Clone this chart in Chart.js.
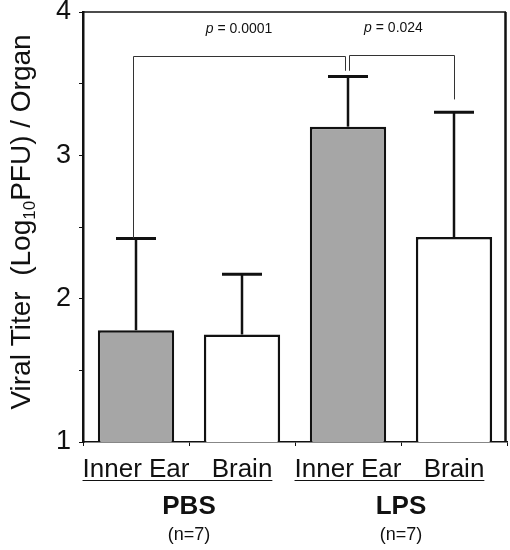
<!DOCTYPE html>
<html>
<head>
<meta charset="utf-8">
<script src="https://cdn.jsdelivr.net/npm/chart.js@4"></script>
<style>
  body { margin: 0; background: #fff; }
  #wrap { width: 510px; height: 550px; }
</style>
</head>
<body>
<div id="wrap"><canvas id="myChart" width="510" height="550"></canvas></div>
<script>
// organ per bar, group per pair of bars
var organs = ['Inner Ear', 'Brain', 'Inner Ear', 'Brain']
var groups = ['PBS', 'LPS']
var group_n = ['(n=7)', '(n=7)']

// mean titer (log10 PFU) and top of error bar
var means = [1.78, 1.75, 3.20, 2.43]
var upper = [2.42, 2.17, 3.55, 3.30]

var y_ticks = [1, 2, 3, 4]

// significance brackets: from bar, to bar, height, p value
var bracket_from = [0, 2]
var bracket_to = [2, 3]
var bracket_y = [3.69, 3.70]
var bracket_drop = [3.59, 3.39]   // where the right leg stops
var p_values = ['0.0001', '0.024']

var fontFam = '"Liberation Sans", Arial, Helvetica, sans-serif'

var extras = {
    id: 'extras',
    afterDatasetsDraw(chart) {
        var ctx = chart.ctx
        var x = chart.scales.x
        var y = chart.scales.y
        var meta = chart.getDatasetMeta(0)
        ctx.save()

        // error bars
        ctx.strokeStyle = '#111'
        for (var i = 0; i < means.length; i++) {
            var bx = meta.data[i].x
            var y0 = y.getPixelForValue(means[i])
            var y1 = y.getPixelForValue(upper[i])
            ctx.lineWidth = 2.5
            ctx.beginPath()
            ctx.moveTo(bx, y0)
            ctx.lineTo(bx, y1)
            ctx.stroke()
            ctx.lineWidth = 3
            ctx.beginPath()
            ctx.moveTo(bx - 20, y1)
            ctx.lineTo(bx + 20, y1)
            ctx.stroke()
        }

        // brackets
        ctx.strokeStyle = '#333'
        ctx.lineWidth = 1
        for (var b = 0; b < bracket_from.length; b++) {
            var xa = meta.data[bracket_from[b]].x
            var xb = meta.data[bracket_to[b]].x
            var ya, yb
            if (b == 0) {
                xa = xa - 3
                xb = xb - 3
                ya = y.getPixelForValue(upper[bracket_from[b]])
            } else {
                xa = xa + 1
                ya = y.getPixelForValue(bracket_drop[0])
            }
            var yh = y.getPixelForValue(bracket_y[b])
            yb = y.getPixelForValue(bracket_drop[b])
            ctx.beginPath()
            ctx.moveTo(Math.round(xa) + 0.5, ya)
            ctx.lineTo(Math.round(xa) + 0.5, Math.round(yh) + 0.5)
            ctx.lineTo(Math.round(xb) + 0.5, Math.round(yh) + 0.5)
            ctx.lineTo(Math.round(xb) + 0.5, yb)
            ctx.stroke()

            // p label
            var mid = (xa + xb) / 2
            var ty = yh - 27
            ctx.fillStyle = '#111'
            ctx.textBaseline = 'middle'
            ctx.textAlign = 'left'
            ctx.font = 'italic 14px ' + fontFam
            var w1 = ctx.measureText('p').width
            ctx.font = '14px ' + fontFam
            var rest = ' = ' + p_values[b]
            var w2 = ctx.measureText(rest).width
            var sx = mid - (w1 + w2) / 2 - (b == 1 ? 8 : 0)
            ctx.font = 'italic 14px ' + fontFam
            ctx.fillText('p', sx, ty)
            ctx.font = '14px ' + fontFam
            ctx.fillText(rest, sx + w1, ty)
        }

        // top and right frame
        var a = chart.chartArea
        ctx.strokeStyle = '#111'
        ctx.lineWidth = 1.5
        ctx.beginPath()
        ctx.moveTo(a.left, a.top)
        ctx.lineTo(a.right - 1, a.top)
        ctx.stroke()
        ctx.lineWidth = 2.5
        ctx.beginPath()
        ctx.moveTo(a.right - 1.5, a.top)
        ctx.lineTo(a.right - 1.5, a.bottom)
        ctx.stroke()

        // category labels, underlines, group labels
        ctx.fillStyle = '#111'
        ctx.textAlign = 'center'
        ctx.textBaseline = 'alphabetic'
        ctx.font = '26px ' + fontFam
        for (var i = 0; i < organs.length; i++) {
            ctx.fillText(organs[i], meta.data[i].x, a.bottom + 35)
        }
        for (var g = 0; g < groups.length; g++) {
            var left = meta.data[g * 2].x
            var right = meta.data[g * 2 + 1].x
            ctx.font = '26px ' + fontFam
            var lw = ctx.measureText(organs[g * 2]).width
            var rw = ctx.measureText(organs[g * 2 + 1]).width
            ctx.lineWidth = 1.2
            ctx.beginPath()
            ctx.moveTo(left - lw / 2, a.bottom + 38.5)
            ctx.lineTo(right + rw / 2, a.bottom + 38.5)
            ctx.stroke()
            var gc = (left + right) / 2
            ctx.font = 'bold 26px ' + fontFam
            ctx.fillText(groups[g], gc, a.bottom + 72)
            ctx.font = '18px ' + fontFam
            ctx.fillText(group_n[g], gc, a.bottom + 98)
        }

        // y axis title with subscript
        ctx.translate(22, (a.top + a.bottom) / 2 - 5)
        ctx.rotate(-Math.PI / 2)
        ctx.textAlign = 'left'
        ctx.textBaseline = 'middle'
        var p1 = 'Viral Titer  (Log'
        var sub = '10'
        var p2 = 'PFU) / Organ'
        ctx.font = '28px ' + fontFam
        var wa = ctx.measureText(p1).width
        var wc = ctx.measureText(p2).width
        ctx.font = '17px ' + fontFam
        var wb = ctx.measureText(sub).width
        var st = -(wa + wb + wc) / 2
        ctx.font = '28px ' + fontFam
        ctx.fillText(p1, st, 0)
        ctx.font = '17px ' + fontFam
        ctx.fillText(sub, st + wa, 8)
        ctx.font = '28px ' + fontFam
        ctx.fillText(p2, st + wa + wb, 0)

        ctx.restore()
    }
}

let myChart = document.getElementById('myChart').getContext('2d')
let titerChart = new Chart(myChart, {
    type: 'bar',
    data: {
        labels: organs,
        datasets: [{
            data: means,
            backgroundColor: ['#a6a6a6', '#ffffff', '#a6a6a6', '#ffffff'],
            borderColor: '#111',
            borderWidth: 2.5,
            barPercentage: 0.72,
            categoryPercentage: 1,
        }]
    },
    options: {
        responsive: false,
        animation: false,
        layout: { padding: { top: 12, right: 3, left: 0, bottom: 0 } },
        plugins: { legend: { display: false }, tooltip: { enabled: false } },
        scales: {
            x: {
                grid: { drawOnChartArea: false, tickLength: 4, color: '#111', lineWidth: 1 },
                border: { color: '#111', width: 1.5 },
                ticks: { display: false },
                afterFit: function (scale) {
                    scale.height = 108
                    scale.paddingLeft = 0
                    scale.paddingRight = 0
                }
            },
            y: {
                min: 1,
                max: 4,
                grid: { drawOnChartArea: false, tickLength: 4, color: '#111', lineWidth: 1 },
                border: { color: '#111', width: 2.5 },
                ticks: {
                    stepSize: 0.5,
                    color: '#111',
                    padding: 8,
                    font: { size: 27, family: fontFam },
                    callback: function (v) { return y_ticks.includes(v) ? v : '' }
                },
                afterFit: function (scale) {
                    scale.width = 83
                    scale.paddingTop = 0
                    scale.paddingBottom = 0
                }
            }
        }
    },
    plugins: [extras]
});
</script>
</body>
</html>
